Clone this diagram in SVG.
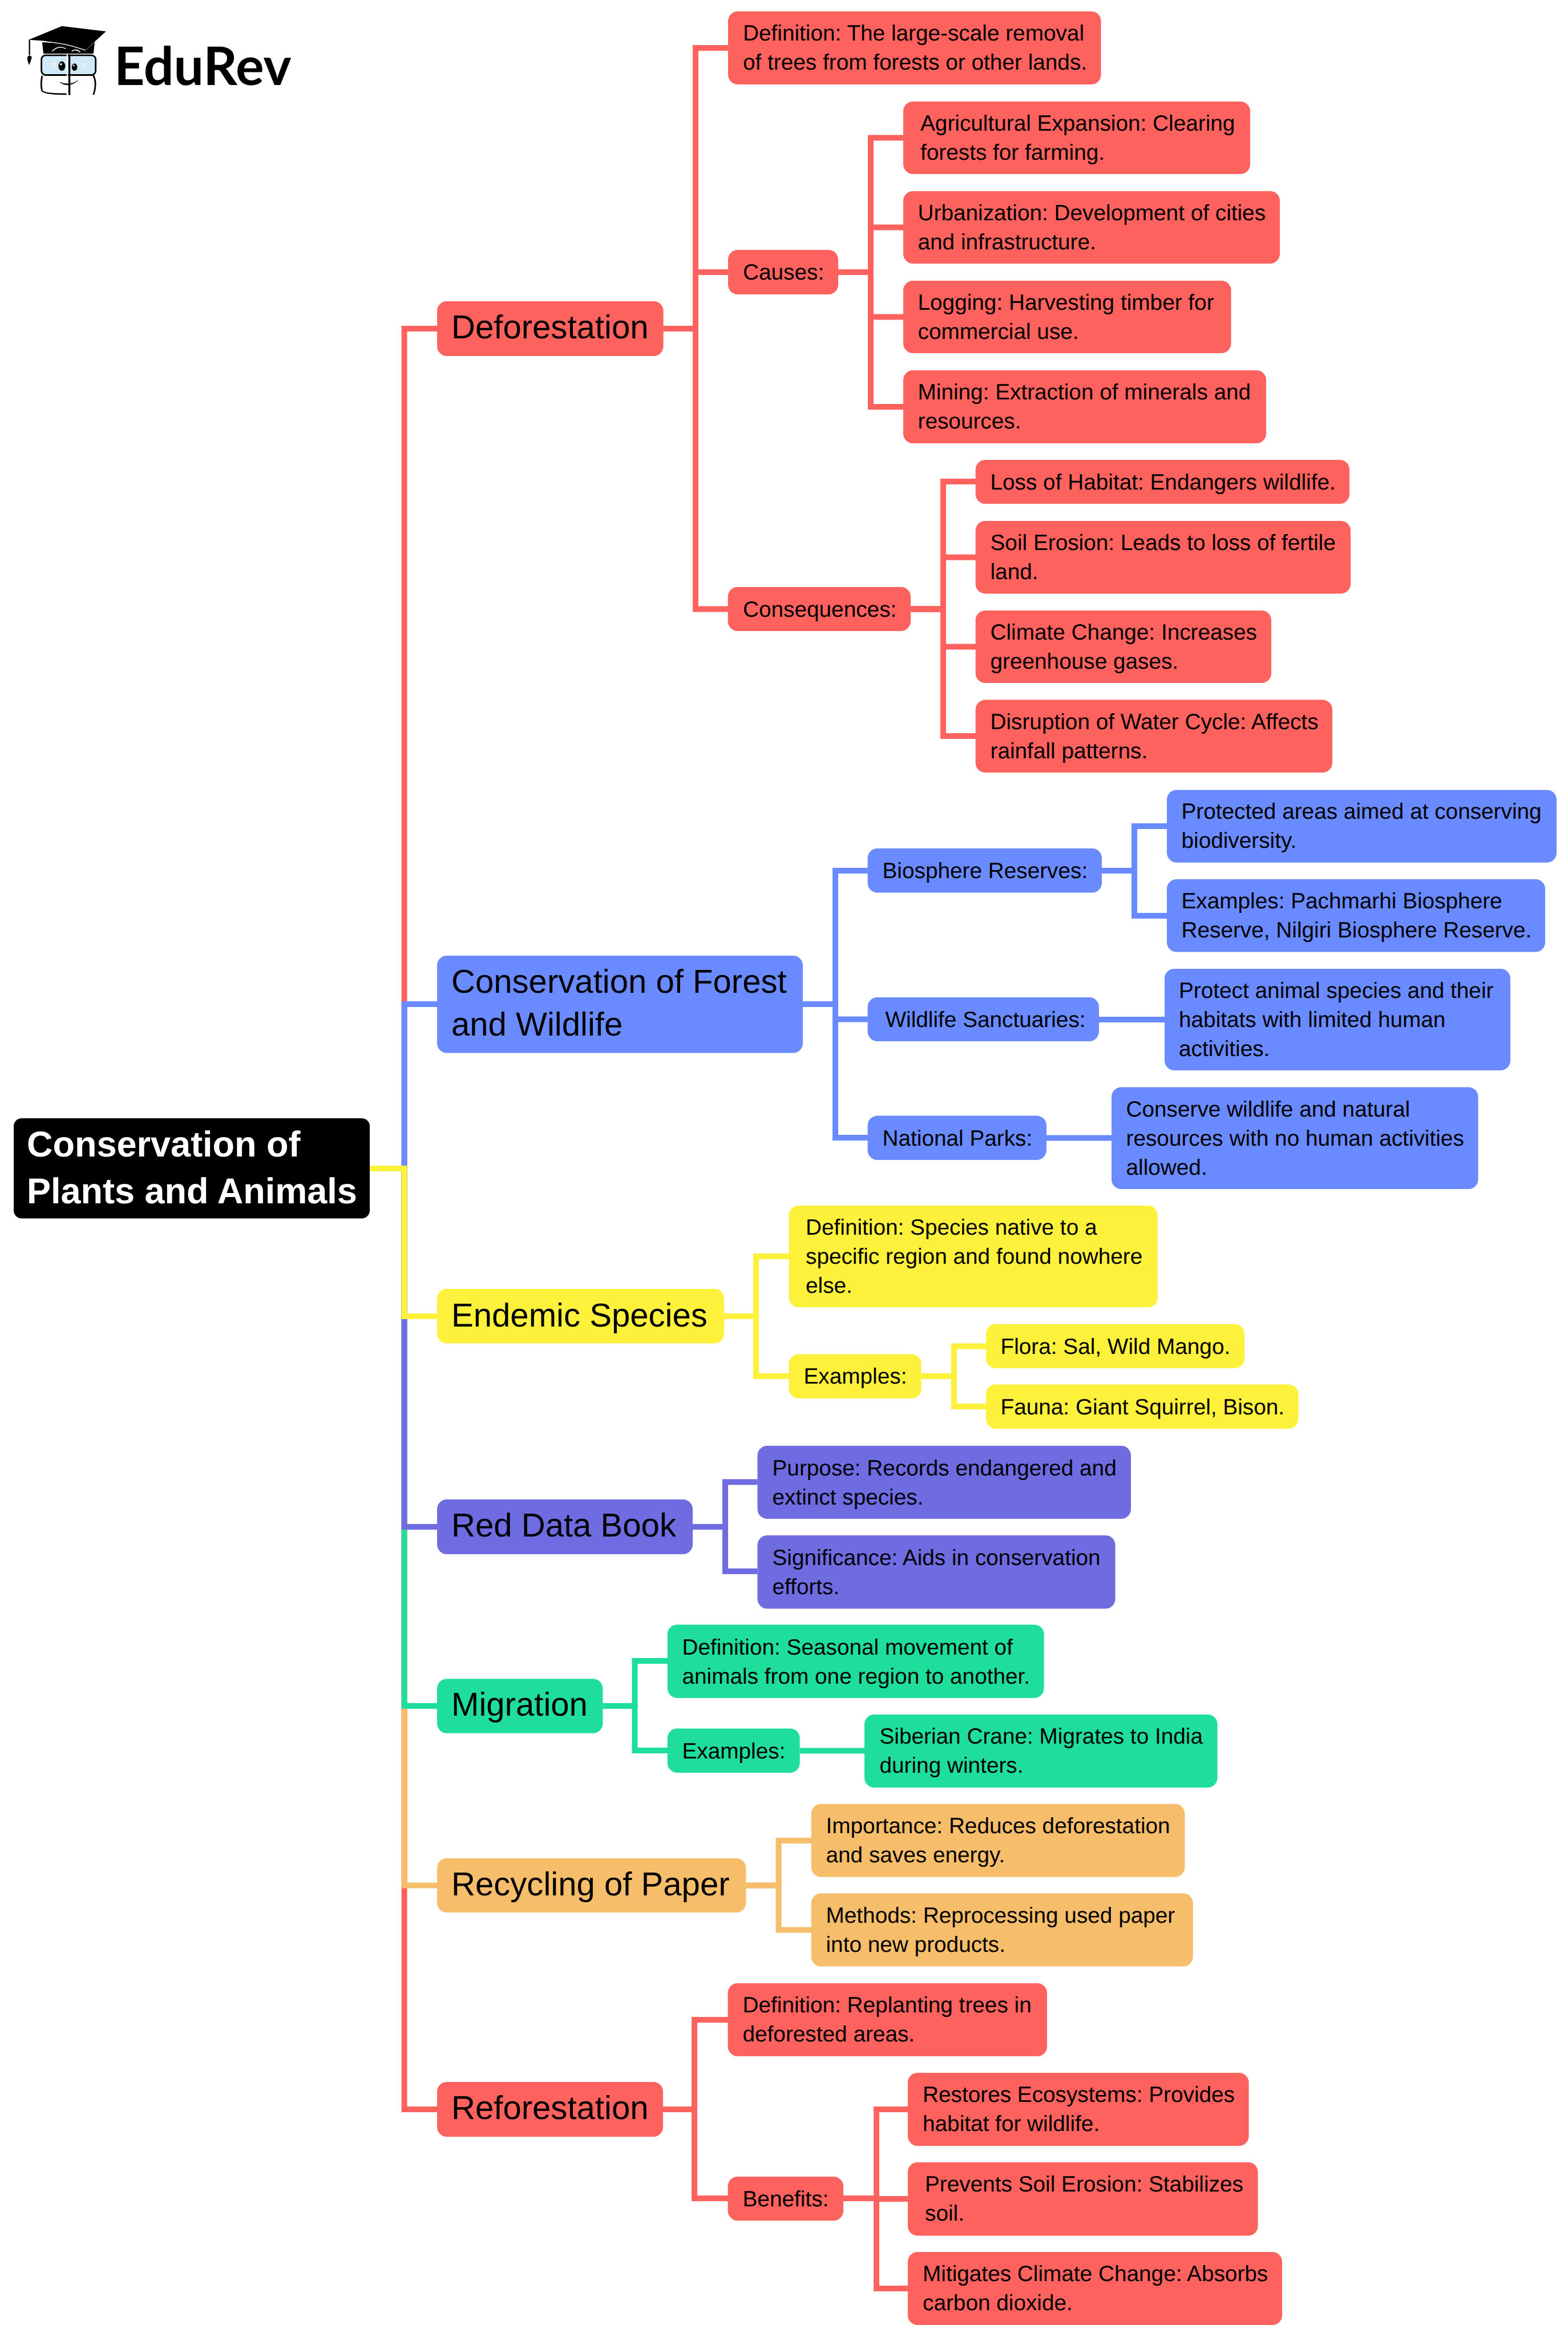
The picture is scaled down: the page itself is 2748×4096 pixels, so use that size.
<svg xmlns="http://www.w3.org/2000/svg" width="2748" height="4096" viewBox="0 0 2748 4096">
<style>
text{font-family:"Liberation Sans",Arial,sans-serif;fill:#000;text-rendering:geometricPrecision}
.s{font-size:38.75px}
.m{font-size:58.1px}
.r{font-size:63px;font-weight:700;fill:#fff}
.red{fill:#fd625e}.blue{fill:#6a8bff}.yel{fill:#fdf13c}.pur{fill:#6f6be0}.grn{fill:#1fdd9b}.org{fill:#f6bd6b}
#connectors path{fill:none;stroke-width:10}
.cr{stroke:#fd625e}.cb{stroke:#6a8bff}.cy{stroke:#fdf13c}.cp{stroke:#6f6be0}.cg{stroke:#1fdd9b}.co{stroke:#f6bd6b}
</style>
<rect width="2748" height="4096" fill="#fff"/>
<g id="logo">
<g transform="translate(41.5 34.6) scale(.2307)">
<path d="M140 168L150 258H530L540 170L470 232L300 180Z" fill="#000"/>
<path d="M215 240Q265 190 320 220M365 240Q395 215 430 245" fill="none" stroke="#fff" stroke-width="7"/>
<path d="M38 152L290 48L625 88L470 230Q260 160 38 152Z" fill="#000"/>
<path d="M140 168Q300 170 470 232" fill="none" stroke="#fff" stroke-width="5"/>
<path d="M44 152V268" stroke="#000" stroke-width="10"/>
<path d="M28 285Q44 258 62 285Q56 312 42 344Q26 312 28 285Z" fill="#000"/>
<rect x="135" y="270" width="412" height="150" rx="32" fill="#d0e9f8" stroke="#000" stroke-width="12"/>
<path d="M140 425Q128 490 138 535Q146 566 325 565" fill="none" stroke="#000" stroke-width="12"/>
<path d="M528 420Q560 480 530 570" fill="none" stroke="#000" stroke-width="12"/>
<path d="M331 262V430" stroke="#fff" stroke-width="9"/>
<path d="M347 262V572" stroke="#000" stroke-width="15"/>
<ellipse cx="290" cy="352" rx="26" ry="36" fill="#000"/><circle cx="283" cy="338" r="8" fill="#fff"/>
<ellipse cx="386" cy="360" rx="21" ry="28" fill="#000"/><circle cx="380" cy="348" r="6" fill="#fff"/>
<path d="M275 475Q340 522 412 462Q345 505 275 475Z" fill="#000" stroke="#000" stroke-width="3"/>
<path d="M210 332H244M210 345H244M210 358H244M442 332H476M442 345H476M442 358H476" stroke="#fff" stroke-width="7" stroke-dasharray="6 3"/>
</g>
<text x="200" y="148.7" style="font-family:Lato,sans-serif;font-weight:700;font-size:93px">EduRev</text>
</g>
<g id="connectors">
<path class="cr" d="M648 2048H708.6V576H766"/>
<path class="cb" d="M648 2048H708.6V1760H766"/>
<path class="cr" d="M648 2048H708.6V3697H766"/>
<path class="co" d="M648 2048H708.6V3304.5H766"/>
<path class="cg" d="M648 2048H708.6V2990H766"/>
<path class="cp" d="M648 2048H708.6V2676H766"/>
<path class="cy" d="M648 2048H708.6V2307H766"/>
<path class="cr" d="M1162.6 576H1219V84H1276"/>
<path class="cr" d="M1162.6 576H1219V477H1276"/>
<path class="cr" d="M1162.6 576H1219V1067.5H1276"/>
<path class="cr" d="M1469 477H1526V241.5H1583"/>
<path class="cr" d="M1469 477H1526V398.5H1583"/>
<path class="cr" d="M1469 477H1526V555.5H1583"/>
<path class="cr" d="M1469 477H1526V713H1583"/>
<path class="cr" d="M1596 1067.5H1653V844H1710"/>
<path class="cr" d="M1596 1067.5H1653V976.7H1710"/>
<path class="cr" d="M1596 1067.5H1653V1133.6H1710"/>
<path class="cr" d="M1596 1067.5H1653V1290H1710"/>
<path class="cb" d="M1407 1760H1464V1526H1521"/>
<path class="cb" d="M1407 1760H1464V1786.6H1521"/>
<path class="cb" d="M1407 1760H1464V1994H1521"/>
<path class="cb" d="M1931 1526H1988V1448H2045"/>
<path class="cb" d="M1931 1526H1988V1605H2045"/>
<path class="cb" d="M1926 1787H2041"/>
<path class="cb" d="M1834 1994.5H1948"/>
<path class="cy" d="M1269 2307H1325V2202H1383"/>
<path class="cy" d="M1269 2307H1325V2412H1383"/>
<path class="cy" d="M1614.6 2412H1672V2359.5H1728"/>
<path class="cy" d="M1614.6 2412H1672V2465H1728"/>
<path class="cp" d="M1214 2676H1271V2597.6H1327.5"/>
<path class="cp" d="M1214 2676H1271V2754H1327.5"/>
<path class="cg" d="M1056.4 2990H1112.5V2911H1170"/>
<path class="cg" d="M1056.4 2990H1112.5V3068H1170"/>
<path class="cg" d="M1401.7 3068.5H1515"/>
<path class="co" d="M1307.4 3304.5H1364.6V3226H1422"/>
<path class="co" d="M1307.4 3304.5H1364.6V3382.5H1422"/>
<path class="cr" d="M1162 3697H1217V3540H1276"/>
<path class="cr" d="M1162 3697H1217V3853H1276"/>
<path class="cr" d="M1478 3853H1536V3697H1591"/>
<path class="cr" d="M1478 3853H1536V3854H1591"/>
<path class="cr" d="M1478 3853H1536V4011H1591"/>
</g>
<g id="root"><rect x="24" y="1960" width="624" height="175.500" rx="14" fill="#000"/><text class="r" x="47" y="2027">Conservation of</text><text class="r" x="47" y="2109">Plants and Animals</text></g>
<g id="deforestation"><rect class="red" x="766" y="528" width="396.600" height="96" rx="17"/><text class="m" x="791" y="593">Deforestation</text></g>
<g id="def-definition"><rect class="red" x="1276" y="20" width="653.600" height="128" rx="17"/><text class="s" x="1302" y="71">Definition: The large-scale removal</text><text class="s" x="1302" y="122">of trees from forests or other lands.</text></g>
<g id="causes"><rect class="red" x="1276" y="438" width="193" height="78" rx="17"/><text class="s" x="1302" y="490">Causes:</text></g>
<g id="agri"><rect class="red" x="1583" y="178" width="608" height="127" rx="17"/><text class="s" x="1613" y="229">Agricultural Expansion: Clearing</text><text class="s" x="1613" y="280">forests for farming.</text></g>
<g id="urban"><rect class="red" x="1583" y="335" width="660" height="127" rx="17"/><text class="s" x="1608.500" y="386">Urbanization: Development of cities</text><text class="s" x="1608.500" y="437">and infrastructure.</text></g>
<g id="logging"><rect class="red" x="1583" y="492" width="574.600" height="127" rx="17"/><text class="s" x="1608.500" y="543">Logging: Harvesting timber for</text><text class="s" x="1608.500" y="594">commercial use.</text></g>
<g id="mining"><rect class="red" x="1583" y="649" width="636" height="128" rx="17"/><text class="s" x="1608.500" y="700">Mining: Extraction of minerals and</text><text class="s" x="1608.500" y="751">resources.</text></g>
<g id="consequences"><rect class="red" x="1275.700" y="1028.700" width="320.300" height="77.300" rx="17"/><text class="s" x="1302" y="1081">Consequences:</text></g>
<g id="loss"><rect class="red" x="1709.700" y="806" width="655.300" height="77" rx="17"/><text class="s" x="1735.500" y="858">Loss of Habitat: Endangers wildlife.</text></g>
<g id="soil"><rect class="red" x="1709.700" y="913" width="657.300" height="127.400" rx="17"/><text class="s" x="1735.500" y="964">Soil Erosion: Leads to loss of fertile</text><text class="s" x="1735.500" y="1015">land.</text></g>
<g id="climate"><rect class="red" x="1709.700" y="1070" width="518.300" height="127" rx="17"/><text class="s" x="1735.500" y="1121">Climate Change: Increases</text><text class="s" x="1735.500" y="1172">greenhouse gases.</text></g>
<g id="disruption"><rect class="red" x="1709.700" y="1226.600" width="625.300" height="127.400" rx="17"/><text class="s" x="1735.500" y="1278">Disruption of Water Cycle: Affects</text><text class="s" x="1735.500" y="1329">rainfall patterns.</text></g>
<g id="forest"><rect class="blue" x="766" y="1675" width="641" height="170.600" rx="17"/><text class="m" x="791" y="1740">Conservation of Forest</text><text class="m" x="791" y="1814.500">and Wildlife</text></g>
<g id="biosphere"><rect class="blue" x="1520.600" y="1487" width="410.400" height="77.600" rx="17"/><text class="s" x="1546.500" y="1539">Biosphere Reserves:</text></g>
<g id="protected"><rect class="blue" x="2045" y="1384.400" width="683" height="127.300" rx="17"/><text class="s" x="2070.500" y="1435">Protected areas aimed at conserving</text><text class="s" x="2070.500" y="1486">biodiversity.</text></g>
<g id="pachmarhi"><rect class="blue" x="2045" y="1541" width="663" height="127.500" rx="17"/><text class="s" x="2070.500" y="1592">Examples: Pachmarhi Biosphere</text><text class="s" x="2070.500" y="1643">Reserve, Nilgiri Biosphere Reserve.</text></g>
<g id="sanctuaries"><rect class="blue" x="1520.600" y="1748" width="405.400" height="77" rx="17"/><text class="s" x="1551.500" y="1800">Wildlife Sanctuaries:</text></g>
<g id="protect"><rect class="blue" x="2041" y="1698" width="606" height="178" rx="17"/><text class="s" x="2066" y="1749">Protect animal species and their</text><text class="s" x="2066" y="1800">habitats with limited human</text><text class="s" x="2066" y="1851">activities.</text></g>
<g id="parks"><rect class="blue" x="1520.600" y="1955.600" width="313.400" height="77.400" rx="17"/><text class="s" x="1546.500" y="2007.500">National Parks:</text></g>
<g id="conserve"><rect class="blue" x="1948" y="1905.600" width="642.600" height="178.400" rx="17"/><text class="s" x="1973.500" y="1957">Conserve wildlife and natural</text><text class="s" x="1973.500" y="2008">resources with no human activities</text><text class="s" x="1973.500" y="2059">allowed.</text></g>
<g id="endemic"><rect class="yel" x="766" y="2259" width="503" height="95.600" rx="17"/><text class="m" x="791" y="2325">Endemic Species</text></g>
<g id="end-def"><rect class="yel" x="1382.600" y="2113" width="646.100" height="178.300" rx="17"/><text class="s" x="1412" y="2164">Definition: Species native to a</text><text class="s" x="1412" y="2215">specific region and found nowhere</text><text class="s" x="1412" y="2266">else.</text></g>
<g id="end-ex"><rect class="yel" x="1382.600" y="2373.600" width="232" height="77.400" rx="17"/><text class="s" x="1408.500" y="2425">Examples:</text></g>
<g id="flora"><rect class="yel" x="1728" y="2320.700" width="453" height="77.300" rx="17"/><text class="s" x="1753.500" y="2372.500">Flora: Sal, Wild Mango.</text></g>
<g id="fauna"><rect class="yel" x="1728" y="2426.600" width="547.500" height="77.400" rx="17"/><text class="s" x="1753.500" y="2478.500">Fauna: Giant Squirrel, Bison.</text></g>
<g id="redbook"><rect class="pur" x="766" y="2628" width="448" height="96" rx="17"/><text class="m" x="791" y="2693">Red Data Book</text></g>
<g id="purpose"><rect class="pur" x="1327.500" y="2534" width="654.500" height="128.100" rx="17"/><text class="s" x="1353.500" y="2586">Purpose: Records endangered and</text><text class="s" x="1353.500" y="2637">extinct species.</text></g>
<g id="significance"><rect class="pur" x="1327.500" y="2691" width="627.100" height="128.500" rx="17"/><text class="s" x="1353.500" y="2743">Significance: Aids in conservation</text><text class="s" x="1353.500" y="2794">efforts.</text></g>
<g id="migration"><rect class="grn" x="766" y="2942.400" width="290.400" height="95.400" rx="17"/><text class="m" x="791" y="3007">Migration</text></g>
<g id="mig-def"><rect class="grn" x="1169.700" y="2847.500" width="659.900" height="128.500" rx="17"/><text class="s" x="1195.500" y="2899.500">Definition: Seasonal movement of</text><text class="s" x="1195.500" y="2950.500">animals from one region to another.</text></g>
<g id="mig-ex"><rect class="grn" x="1169.700" y="3029.500" width="232" height="77.600" rx="17"/><text class="s" x="1195.500" y="3081.500">Examples:</text></g>
<g id="crane"><rect class="grn" x="1515" y="3005" width="618.600" height="128" rx="17"/><text class="s" x="1541.500" y="3056">Siberian Crane: Migrates to India</text><text class="s" x="1541.500" y="3107">during winters.</text></g>
<g id="recycling"><rect class="org" x="766" y="3257" width="541.400" height="95" rx="17"/><text class="m" x="791" y="3322">Recycling of Paper</text></g>
<g id="importance"><rect class="org" x="1421.800" y="3161.700" width="654.600" height="128.100" rx="17"/><text class="s" x="1447.500" y="3213">Importance: Reduces deforestation</text><text class="s" x="1447.500" y="3264">and saves energy.</text></g>
<g id="methods"><rect class="org" x="1421.800" y="3318.400" width="669" height="128.200" rx="17"/><text class="s" x="1447.500" y="3369.500">Methods: Reprocessing used paper</text><text class="s" x="1447.500" y="3420.500">into new products.</text></g>
<g id="reforestation"><rect class="red" x="766" y="3649" width="396" height="96" rx="17"/><text class="m" x="791" y="3714">Reforestation</text></g>
<g id="ref-def"><rect class="red" x="1275.600" y="3476" width="559.400" height="128" rx="17"/><text class="s" x="1301.500" y="3527">Definition: Replanting trees in</text><text class="s" x="1301.500" y="3578">deforested areas.</text></g>
<g id="benefits"><rect class="red" x="1275.600" y="3815" width="202.400" height="77" rx="17"/><text class="s" x="1301.500" y="3866.500">Benefits:</text></g>
<g id="restores"><rect class="red" x="1591" y="3633" width="597.600" height="128" rx="17"/><text class="s" x="1617" y="3684">Restores Ecosystems: Provides</text><text class="s" x="1617" y="3735">habitat for wildlife.</text></g>
<g id="prevents"><rect class="red" x="1591" y="3789.700" width="613.500" height="128.700" rx="17"/><text class="s" x="1621" y="3841">Prevents Soil Erosion: Stabilizes</text><text class="s" x="1621" y="3892">soil.</text></g>
<g id="mitigates"><rect class="red" x="1591" y="3947" width="656" height="128" rx="17"/><text class="s" x="1617" y="3998">Mitigates Climate Change: Absorbs</text><text class="s" x="1617" y="4049">carbon dioxide.</text></g>
</svg>
